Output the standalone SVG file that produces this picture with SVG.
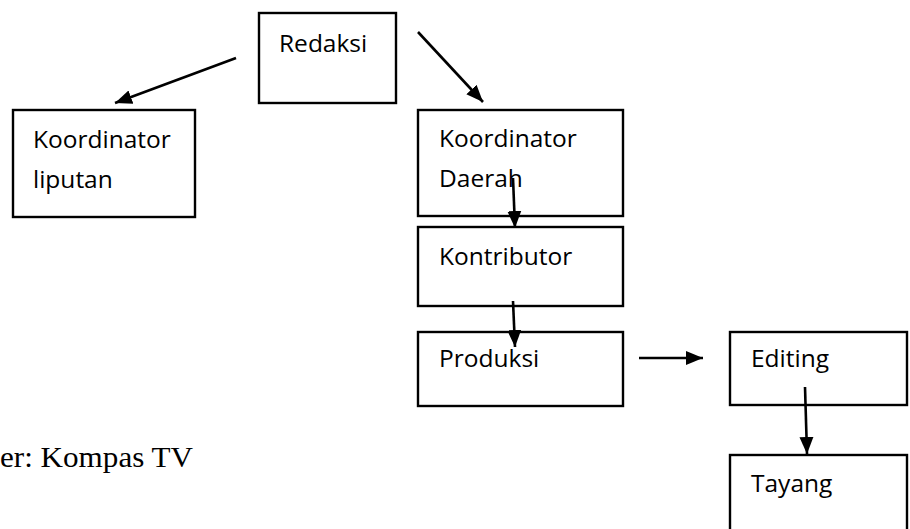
<svg xmlns="http://www.w3.org/2000/svg" width="910" height="529" viewBox="0 0 910 529">
<style>
.box{fill:#fff;stroke:#000;stroke-width:2.4}
.lbl{font-family:"Open Sans","Noto Sans",sans-serif;font-size:24.5px;fill:#000}
.con{stroke:#000;stroke-width:2.6;fill:none;marker-end:url(#ah)}
.cap{font-family:"Liberation Serif","Times New Roman",serif;font-size:30px;fill:#000}
</style>
<defs>
<marker id="ah" markerUnits="userSpaceOnUse" markerWidth="18" markerHeight="16" viewBox="0 0 18 16" refX="17" refY="8" orient="auto">
<path d="M0,1 L17,8 L0,15 Z" fill="#000"/>
</marker>
</defs>
<rect width="910" height="529" fill="#fff"/>
<g id="redaksi"><rect class="box" x="259" y="13" width="137" height="90"/><text class="lbl" x="279" y="52">Redaksi</text></g>
<g id="koordinator-liputan"><rect class="box" x="13" y="110" width="182" height="107"/><text class="lbl" x="33" y="148">Koordinator</text><text class="lbl" x="33" y="188">liputan</text></g>
<g id="koordinator-daerah"><rect class="box" x="418" y="110" width="205" height="106"/><text class="lbl" x="439" y="147">Koordinator</text><text class="lbl" x="439" y="187">Daerah</text></g>
<g id="kontributor"><rect class="box" x="418" y="227" width="205" height="79"/><text class="lbl" x="439" y="265">Kontributor</text></g>
<g id="produksi"><rect class="box" x="418" y="332" width="205" height="74"/><text class="lbl" x="439" y="367">Produksi</text></g>
<g id="editing"><rect class="box" x="730" y="332" width="177" height="73"/><text class="lbl" x="751" y="367">Editing</text></g>
<g id="tayang"><rect class="box" x="730" y="455" width="177" height="80"/><text class="lbl" x="751" y="492">Tayang</text></g>
<g id="connectors">
<line class="con" x1="236" y1="58" x2="115" y2="103"/>
<line class="con" x1="418" y1="32" x2="483" y2="102"/>
<line class="con" x1="513" y1="178" x2="515" y2="228"/>
<line class="con" x1="513" y1="301" x2="515" y2="347"/>
<line class="con" x1="639" y1="358" x2="703" y2="358"/>
<line class="con" x1="805" y1="387" x2="807" y2="454"/>
</g>
<text class="cap" x="0" y="467" textLength="193" lengthAdjust="spacingAndGlyphs">er: Kompas TV</text>
</svg>
